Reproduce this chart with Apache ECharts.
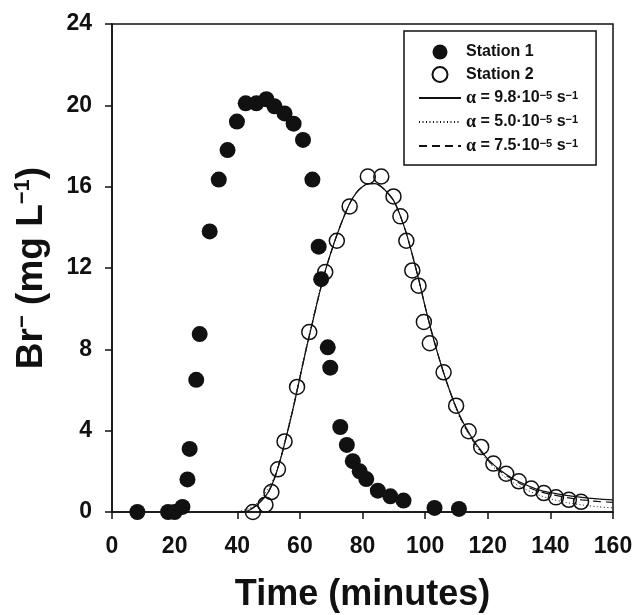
<!DOCTYPE html>
<html>
<head>
<meta charset="utf-8">
<script src="https://cdn.jsdelivr.net/npm/echarts@6/dist/echarts.min.js"></script>
<style>html,body{margin:0;padding:0;background:#fff;}#c{width:636px;height:615px;}</style>
</head>
<body>
<div id="c"></div>
<script>
// ---- Data ----
const station1 = [[8.1,0],[17.9,0],[20,0],[22.5,0.25],[24.1,1.6],[24.8,3.1],[26.9,6.5],[28,8.75],[31.2,13.8],[34.1,16.35],[36.9,17.8],[39.9,19.2],[42.7,20.1],[46.1,20.1],[49.3,20.3],[51.9,19.95],[55.1,19.6],[58,19.1],[61,18.3],[64,16.35],[66,13.05],[66.8,11.45],[68.9,8.1],[69.7,7.1],[72.9,4.18],[75,3.3],[76.9,2.5],[79.1,2.0],[81.2,1.62],[84.9,1.05],[88.9,0.77],[93.1,0.56],[103,0.2],[110.8,0.15]];
const station2 = [[45,0],[49,0.36],[50.9,0.98],[53,2.1],[55.1,3.47],[59.1,6.15],[63,8.85],[68.1,11.8],[71.8,13.34],[75.9,15.03],[81.7,16.5],[86,16.5],[89.9,15.52],[92.1,14.54],[94,13.34],[95.9,11.88],[97.9,11.13],[99.6,9.35],[101.5,8.3],[105.9,6.87],[109.9,5.23],[113.9,3.97],[117.9,3.2],[121.8,2.38],[125.9,1.88],[129.9,1.51],[133.9,1.15],[137.9,0.93],[141.8,0.72],[145.9,0.6],[149.8,0.5]];
const curveTime   = [40,42,44,46,48,50,52,54,56,58,60,62,64,66,68,70,72,74,76,78,80,82,84,86,88,90,92,94,96,98,100,102,104,106,108,110,112,114,116,118,120,124,128,132,136,140,145,150,155,160];
const alpha98     = [0,0,0.1,0.3,0.6,1.0,1.7,2.7,3.9,5.2,6.6,8.0,9.3,10.6,11.8,12.8,13.7,14.5,15.2,15.7,16.0,16.15,16.15,16.0,15.7,15.3,14.6,13.7,12.6,11.4,10.1,8.9,7.8,6.8,5.9,5.1,4.45,3.9,3.4,3.0,2.6,2.05,1.65,1.35,1.1,0.95,0.82,0.72,0.65,0.6];
const alpha50     = [0.02,0.08,0.2,0.4,0.75,1.2,1.8,2.8,4.0,5.3,6.7,8.1,9.4,10.7,11.8,12.8,13.7,14.5,15.2,15.7,16.0,16.15,16.15,16.0,15.7,15.3,14.6,13.7,12.6,11.4,10.1,8.9,7.8,6.8,5.9,5.0,4.35,3.8,3.3,2.9,2.5,1.9,1.45,1.12,0.85,0.65,0.47,0.35,0.26,0.2];
const alpha75     = [0,0.01,0.12,0.32,0.62,1.0,1.7,2.7,3.9,5.2,6.6,8.0,9.3,10.6,11.8,12.8,13.7,14.5,15.2,15.7,16.0,16.15,16.15,16.0,15.7,15.3,14.6,13.7,12.6,11.4,10.1,8.9,7.8,6.8,5.9,5.1,4.4,3.85,3.35,2.95,2.55,2.0,1.6,1.28,1.03,0.87,0.72,0.6,0.52,0.47];
const xTicks = {min:0, max:160, interval:20};
const yTicks = {min:0, max:24, interval:4};
const seriesNames = ['Station 1','Station 2','a98','a50','a75'];
const alphaLabels = {a98:'9.8', a50:'5.0', a75:'7.5'};

const SANS = '"Liberation Sans", Arial, sans-serif';
const SERIF = '"Liberation Serif", "Times New Roman", serif';
const INK = '#111';

function pairs(ts, vs){ return ts.map((t,i)=>[t, vs[i]]); }

const legendData = seriesNames.map(n => alphaLabels[n]
  ? {name:n, itemStyle:{opacity:0}}
  : {name:n});

const chart = echarts.init(document.getElementById('c'));
chart.setOption({
  animation:false,
  backgroundColor:'#fff',
  grid:{left:112, right:23, top:24, bottom:103, containLabel:false, outerBoundsMode:'none',
    show:true, borderColor:INK, borderWidth:1.5, backgroundColor:'transparent'},
  xAxis:{type:'value', min:xTicks.min, max:xTicks.max, interval:xTicks.interval,
    name:'Time (minutes)', nameLocation:'middle', nameGap:65,
    nameTextStyle:{fontFamily:SANS, fontWeight:'bold', fontSize:36, color:INK},
    axisLine:{lineStyle:{color:INK, width:1.5}},
    axisTick:{inside:false, length:7, lineStyle:{color:INK, width:1.5}},
    axisLabel:{margin:23, fontFamily:SANS, fontWeight:'bold', fontSize:23, color:INK},
    splitLine:{show:false}},
  yAxis:{type:'value', min:yTicks.min, max:yTicks.max, interval:yTicks.interval,
    name:'{b|Br}{s|−}{b| (mg L}{s|−1}{b|)}', nameLocation:'middle', nameGap:60,
    nameTextStyle:{fontFamily:SANS, fontWeight:'bold', fontSize:37, color:INK,
      rich:{b:{fontFamily:SANS, fontWeight:'bold', fontSize:37, color:INK, lineHeight:40},
            s:{fontFamily:SANS, fontWeight:'bold', fontSize:22, color:INK, verticalAlign:'top', lineHeight:22}}},
    axisLine:{lineStyle:{color:INK, width:1.5}},
    axisTick:{inside:false, length:7, lineStyle:{color:INK, width:1.5}},
    axisLabel:{margin:20, fontFamily:SANS, fontWeight:'bold', fontSize:23, color:INK},
    splitLine:{show:false}},
  legend:{orient:'vertical', left:404, top:31, padding:[13,18,10,14], itemGap:6,
    itemWidth:42, itemHeight:15, borderColor:INK, borderWidth:1.5, backgroundColor:'#fff',
    data:legendData,
    textStyle:{fontFamily:SANS, fontWeight:'bold', fontSize:16, color:INK,
      rich:{a:{fontFamily:SERIF, fontSize:18, color:INK, lineHeight:16},
            b:{fontFamily:SANS, fontWeight:'bold', fontSize:16, color:INK, lineHeight:16},
            s:{fontFamily:SANS, fontWeight:'bold', fontSize:11, color:INK, verticalAlign:'top', lineHeight:11}}},
    formatter:function(n){
      if(alphaLabels[n]) return '{a|α}{b| = '+alphaLabels[n]+'·10}{s|−5}{b| s}{s|−1}';
      return '{b|'+n+'}';
    }},
  series:[
    {name:'Station 1', type:'scatter', data:station1, symbol:'circle', symbolSize:16, z:3,
      itemStyle:{color:INK, borderWidth:0, opacity:1}},
    {name:'Station 2', type:'scatter', data:station2, symbol:'circle', symbolSize:15, z:4,
      itemStyle:{color:'rgba(255,255,255,0)', borderColor:INK, borderWidth:1.5, opacity:1}},
    {name:'a98', type:'line', data:pairs(curveTime, alpha98), smooth:0.3, showSymbol:false, symbol:'none', z:5,
      lineStyle:{color:INK, width:1.2, type:'solid'}, itemStyle:{color:INK}},
    {name:'a50', type:'line', data:pairs(curveTime, alpha50), smooth:0.3, showSymbol:false, symbol:'none', z:5,
      lineStyle:{color:INK, width:1, type:[1,2.5]}, itemStyle:{color:INK}},
    {name:'a75', type:'line', data:pairs(curveTime, alpha75), smooth:0.3, showSymbol:false, symbol:'none', z:5,
      lineStyle:{color:INK, width:1.2, type:[8,5]}, itemStyle:{color:INK}}
  ]
});
</script>
</body>
</html>
